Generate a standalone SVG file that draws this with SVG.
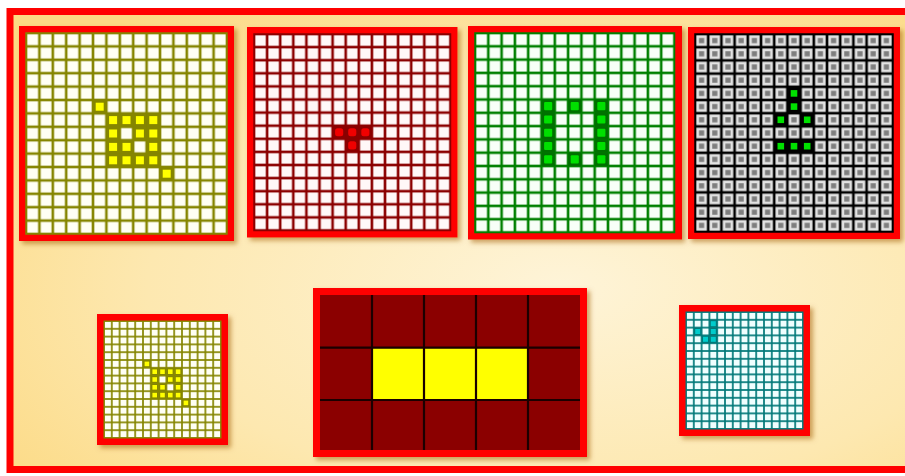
<svg xmlns="http://www.w3.org/2000/svg" xmlns:xlink="http://www.w3.org/1999/xlink" width="905" height="476" viewBox="0 0 905 476">
<style>
.frame{fill:none;stroke:#FF0000;stroke-width:7}
.sh{filter:url(#shadow)}
</style>
<defs>
<radialGradient id="bg" cx="0.6" cy="0.6" r="0.75">
<stop offset="0" stop-color="#FEF4D8"/>
<stop offset="0.6" stop-color="#FDE8B0"/>
<stop offset="1" stop-color="#FCDA84"/>
</radialGradient>
<filter id="shadow" x="-10%" y="-10%" width="125%" height="125%">
<feDropShadow dx="3" dy="3" stdDeviation="2.5" flood-color="#A05A00" flood-opacity="0.55"/>
</filter>
<pattern id="pY" width="13.4" height="13.4" patternUnits="userSpaceOnUse"><rect width="13.4" height="13.4" fill="#858500"/><rect x="1.3" y="1.3" width="10.8" height="10.8" fill="#FFFFF4"/></pattern>
<pattern id="pR" width="13.1" height="13.1" patternUnits="userSpaceOnUse"><rect width="13.1" height="13.1" fill="#8B0000"/><rect x="1.3" y="1.3" width="10.5" height="10.5" fill="#FFF8F8"/></pattern>
<pattern id="pG" width="13.3" height="13.3" patternUnits="userSpaceOnUse"><rect width="13.3" height="13.3" fill="#008000"/><rect x="1.3" y="1.3" width="10.7" height="10.7" fill="#F8FFF8"/></pattern>
<pattern id="pK" width="13.2" height="13.2" patternUnits="userSpaceOnUse"><rect width="13.2" height="13.2" fill="#000000"/><rect x="1.3" y="1.3" width="10.6" height="10.6" fill="#E2E2E2"/><rect x="4" y="4" width="5.2" height="5.2" fill="#7E7E7E"/></pattern>
<pattern id="pYs" width="7.8" height="7.8" patternUnits="userSpaceOnUse"><rect width="7.8" height="7.8" fill="#858500"/><rect x="0.85" y="0.85" width="6.1" height="6.1" fill="#FFFFF4"/></pattern>
<pattern id="pC" width="7.8" height="7.8" patternUnits="userSpaceOnUse"><rect width="7.8" height="7.8" fill="#007878"/><rect x="0.85" y="0.85" width="6.1" height="6.1" fill="#F0FFFF"/></pattern>
<g id="onY"><rect width="13.4" height="13.4" fill="#858500"/><rect x="2.7" y="2.7" width="8" height="8" fill="#FFFF00"/></g>
<g id="onR"><rect width="13.1" height="13.1" fill="#8B0000"/><rect x="2.5" y="2.5" width="8.1" height="8.1" rx="2.5" fill="#F00000"/></g>
<g id="onG"><rect width="13.3" height="13.3" fill="#007000"/><rect x="2.6" y="2.6" width="8.1" height="8.1" rx="1" fill="#00E000"/></g>
<g id="onK"><rect width="13.2" height="13.2" fill="#000000"/><rect x="3.3" y="3.3" width="6.6" height="6.6" fill="#00E000"/></g>
<g id="onYs"><rect width="7.8" height="7.8" fill="#858500"/><rect x="1.6" y="1.6" width="4.6" height="4.6" fill="#FFFF00"/></g>
<g id="onC"><rect width="7.8" height="7.8" fill="#007878"/><rect x="1.4" y="1.4" width="5" height="5" fill="#00CCCC"/></g>
</defs>

<rect x="0" y="0" width="905" height="476" fill="#FFFFFF"/>
<rect x="10" y="11.5" width="920" height="458" fill="url(#bg)" stroke="#FF0000" stroke-width="7"/>

<g id="grid-yellow-large">
<rect class="frame sh" x="22.5" y="29.5" width="208" height="208"/>
<g transform="translate(26,33)">
<rect width="201" height="201" fill="url(#pY)" stroke="#858500" stroke-width="1.5"/>
<use href="#onY" x="67" y="67"/>
<use href="#onY" x="80.4" y="80.4"/><use href="#onY" x="93.8" y="80.4"/><use href="#onY" x="107.2" y="80.4"/><use href="#onY" x="120.6" y="80.4"/>
<use href="#onY" x="80.4" y="93.8"/><use href="#onY" x="107.2" y="93.8"/><use href="#onY" x="120.6" y="93.8"/>
<use href="#onY" x="80.4" y="107.2"/><use href="#onY" x="93.8" y="107.2"/><use href="#onY" x="120.6" y="107.2"/>
<use href="#onY" x="80.4" y="120.6"/><use href="#onY" x="93.8" y="120.6"/><use href="#onY" x="107.2" y="120.6"/><use href="#onY" x="120.6" y="120.6"/>
<use href="#onY" x="134" y="134"/>
</g>
</g>

<g id="grid-red">
<rect class="frame sh" x="250.5" y="30.5" width="203.5" height="203.5"/>
<g transform="translate(254,34)">
<rect width="196.5" height="196.5" fill="url(#pR)" stroke="#8B0000" stroke-width="1.5"/>
<use href="#onR" x="78.6" y="91.7"/><use href="#onR" x="91.7" y="91.7"/><use href="#onR" x="104.8" y="91.7"/>
<use href="#onR" x="91.7" y="104.8"/>
</g>
</g>

<g id="grid-green">
<rect class="frame sh" x="471.5" y="29.5" width="207" height="206.5"/>
<g transform="translate(475,33)">
<rect width="199.5" height="199.5" fill="url(#pG)" stroke="#008000" stroke-width="1.5"/>
<use href="#onG" x="66.5" y="66.5"/><use href="#onG" x="66.5" y="79.8"/><use href="#onG" x="66.5" y="93.1"/><use href="#onG" x="66.5" y="106.4"/><use href="#onG" x="66.5" y="119.7"/>
<use href="#onG" x="119.7" y="66.5"/><use href="#onG" x="119.7" y="79.8"/><use href="#onG" x="119.7" y="93.1"/><use href="#onG" x="119.7" y="106.4"/><use href="#onG" x="119.7" y="119.7"/>
<use href="#onG" x="93.1" y="66.5"/><use href="#onG" x="93.1" y="119.7"/>
</g>
</g>

<g id="grid-grey">
<rect class="frame sh" x="691.5" y="30.5" width="205" height="205"/>
<g transform="translate(695,34)">
<rect width="198" height="198" fill="url(#pK)" stroke="#000000" stroke-width="1.5"/>
<use href="#onK" x="92.4" y="52.8"/><use href="#onK" x="92.4" y="66"/>
<use href="#onK" x="79.2" y="79.2"/><use href="#onK" x="105.6" y="79.2"/>
<use href="#onK" x="79.2" y="105.6"/><use href="#onK" x="92.4" y="105.6"/><use href="#onK" x="105.6" y="105.6"/>
</g>
</g>

<g id="grid-yellow-small">
<rect class="frame sh" x="100.5" y="317.5" width="124" height="124"/>
<g transform="translate(104,321)">
<rect width="117" height="117" fill="url(#pYs)" stroke="#858500" stroke-width="1"/>
<use href="#onYs" x="39" y="39"/>
<use href="#onYs" x="46.8" y="46.8"/><use href="#onYs" x="54.6" y="46.8"/><use href="#onYs" x="62.4" y="46.8"/><use href="#onYs" x="70.2" y="46.8"/>
<use href="#onYs" x="46.8" y="54.6"/><use href="#onYs" x="62.4" y="54.6"/><use href="#onYs" x="70.2" y="54.6"/>
<use href="#onYs" x="46.8" y="62.4"/><use href="#onYs" x="54.6" y="62.4"/><use href="#onYs" x="70.2" y="62.4"/>
<use href="#onYs" x="46.8" y="70.2"/><use href="#onYs" x="54.6" y="70.2"/><use href="#onYs" x="62.4" y="70.2"/><use href="#onYs" x="70.2" y="70.2"/>
<use href="#onYs" x="78" y="78"/>
</g>
</g>

<g id="grid-zoom">
<rect class="frame sh" x="316.5" y="291.5" width="267" height="162"/>
<rect x="320" y="295" width="260" height="155" fill="#8B0000"/>
<rect x="372" y="347.7" width="156" height="52.3" fill="#FFFF00"/>
<g stroke="#1A0000" stroke-width="2.2" fill="none">
<path d="M372 295V450M424 295V450M476 295V450M528 295V450M320 347.7H580M320 400H580"/>
</g>
</g>

<g id="grid-cyan">
<rect class="frame sh" x="682.5" y="308.5" width="124" height="124"/>
<g transform="translate(686,312)">
<rect width="117" height="117" fill="url(#pC)" stroke="#007878" stroke-width="1"/>
<use href="#onC" x="23.4" y="7.8"/><use href="#onC" x="23.4" y="15.6"/><use href="#onC" x="7.8" y="15.6"/>
<use href="#onC" x="15.6" y="23.4"/><use href="#onC" x="23.4" y="23.4"/>
</g>
</g>
</svg>
